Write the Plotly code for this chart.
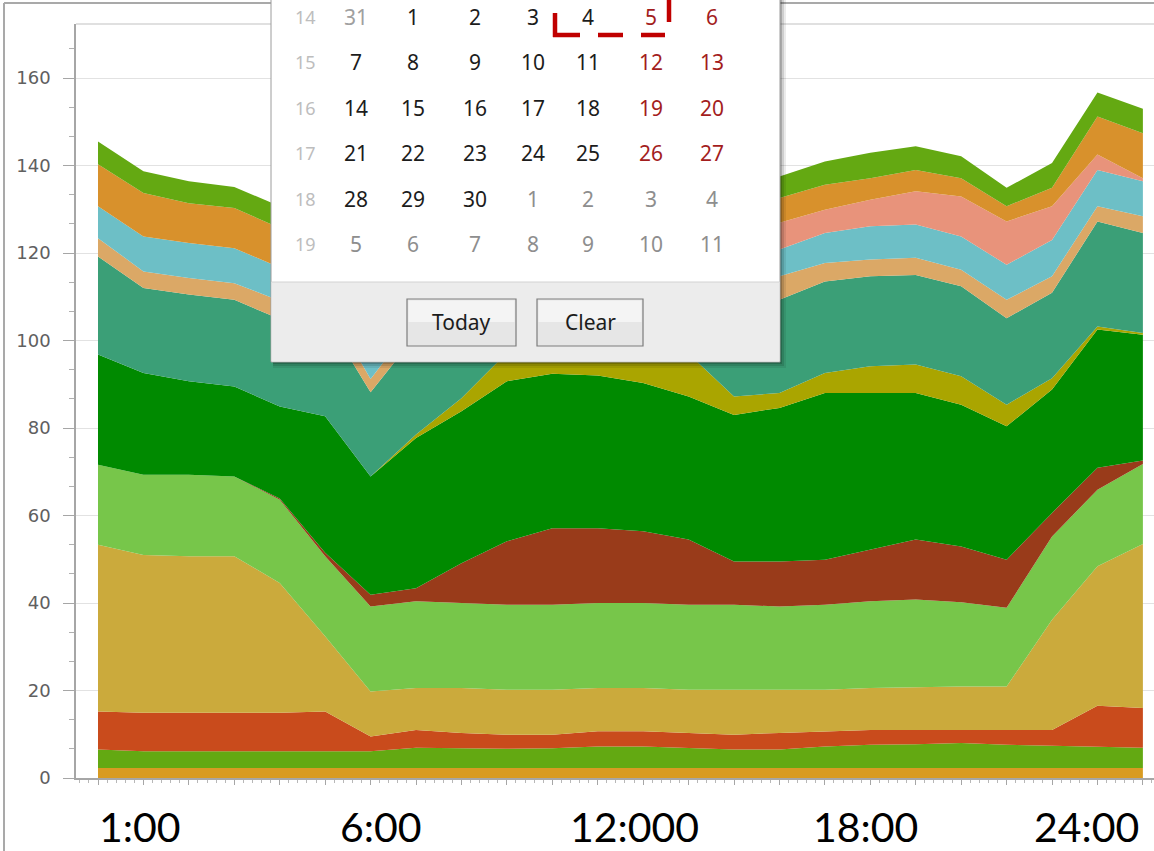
import plotly.graph_objects as go

# ---------------- data (stacked, bottom -> top), one value per hour ----------------
hours = list(range(1, 25))

gold_base   = [2.3, 2.3, 2.3, 2.3, 2.3, 2.3, 2.3, 2.3, 2.3, 2.3, 2.3, 2.3, 2.3, 2.3, 2.3, 2.3, 2.3, 2.3, 2.3, 2.3, 2.3, 2.3, 2.3, 2.3]
lime_low    = [4.2, 3.8, 3.8, 3.8, 3.8, 3.8, 3.8, 4.6, 4.5, 4.4, 4.5, 4.9, 4.9, 4.6, 4.2, 4.2, 4.9, 5.3, 5.4, 5.7, 5.3, 5.1, 4.9, 4.6]
red_orange  = [8.7, 8.8, 8.8, 8.8, 8.8, 9.1, 3.4, 4.1, 3.5, 3.2, 3.1, 3.5, 3.5, 3.4, 3.4, 3.8, 3.5, 3.4, 3.3, 3.0, 3.3, 3.6, 9.3, 9.1]
mustard     = [38.1, 36.1, 35.8, 35.8, 29.7, 17.2, 10.3, 9.6, 10.3, 10.3, 10.3, 9.9, 9.9, 9.9, 10.3, 9.9, 9.5, 9.6, 9.8, 9.9, 10.0, 25.2, 31.9, 37.5]
light_green = [18.3, 18.3, 18.6, 18.2, 19.0, 18.3, 19.4, 19.8, 19.4, 19.4, 19.4, 19.4, 19.4, 19.4, 19.4, 19.0, 19.4, 19.8, 20.0, 19.3, 18.0, 19.0, 17.5, 18.3]
rust        = [0.0, 0.0, 0.0, 0.0, 0.3, 0.8, 2.7, 3.0, 9.1, 14.5, 17.5, 17.1, 16.4, 14.9, 9.9, 10.3, 10.3, 11.8, 13.7, 12.7, 11.0, 5.4, 5.0, 0.8]
dark_green  = [25.2, 23.3, 21.4, 20.6, 21.0, 31.2, 27.0, 34.3, 34.7, 36.6, 35.3, 34.9, 33.9, 32.7, 33.5, 35.1, 38.1, 35.8, 33.5, 32.4, 30.5, 28.2, 31.6, 28.7]
olive       = [0.0, 0.0, 0.0, 0.0, 0.0, 0.0, 0.0, 0.8, 3.0, 6.5, 7.5, 8.0, 8.5, 9.8, 4.2, 3.4, 4.6, 6.1, 6.5, 6.5, 4.9, 2.6, 0.7, 0.4]
teal        = [22.4, 19.4, 19.8, 19.8, 20.0, 22.5, 19.3, 22.7, 20.5, 20.0, 20.5, 21.0, 21.0, 21.0, 21.5, 21.3, 20.9, 20.6, 20.5, 20.6, 19.8, 19.5, 24.0, 22.9]
tan         = [4.2, 3.8, 3.8, 3.8, 4.2, 4.0, 3.0, 3.5, 3.8, 3.9, 4.0, 3.8, 3.9, 4.1, 4.6, 5.4, 4.2, 3.8, 3.9, 3.8, 4.2, 3.8, 3.5, 3.8]
light_blue  = [7.3, 8.0, 8.0, 8.0, 7.6, 7.4, 7.0, 7.2, 7.5, 7.0, 6.8, 6.5, 6.6, 6.3, 6.2, 6.1, 6.9, 7.6, 7.6, 7.6, 8.0, 8.3, 8.3, 8.0]
salmon      = [0.0, 0.0, 0.0, 0.0, 0.0, 0.0, 0.0, 0.0, 0.4, 1.5, 2.6, 3.4, 4.3, 5.0, 5.8, 6.1, 5.3, 6.1, 7.6, 9.1, 9.9, 7.7, 3.5, 0.7]
orange      = [9.6, 9.9, 9.1, 9.2, 9.0, 8.7, 8.5, 8.2, 7.8, 7.3, 7.0, 6.6, 6.4, 6.0, 5.9, 5.7, 5.7, 4.9, 4.9, 4.2, 3.5, 4.2, 8.7, 10.3]
lime_top    = [5.2, 5.0, 5.0, 4.8, 5.0, 5.1, 4.9, 5.0, 5.2, 5.1, 5.0, 5.2, 5.0, 4.9, 4.8, 4.9, 5.3, 5.8, 5.4, 5.0, 4.2, 5.7, 5.5, 5.6]

series = [gold_base, lime_low, red_orange, mustard, light_green, rust, dark_green,
          olive, teal, tan, light_blue, salmon, orange, lime_top]
colors = ["#d89b22", "#63a912", "#c94b1c", "#cbaa3c", "#77c64a", "#993b1a", "#008a00",
          "#aaa500", "#3b9f77", "#dba866", "#6dbfc6", "#e8937b", "#d8912c", "#64a912"]

y_ticks = [0, 20, 40, 60, 80, 100, 120, 140, 160]
x_labels = ["1:00", "6:00", "12:000", "18:00", "24:00"]
x_label_px = [140, 381, 634, 865, 1086]

# calendar popup content
week_numbers = ["14", "15", "16", "17", "18", "19"]
day_rows = [["31", "1", "2", "3", "4", "5", "6"],
            ["7", "8", "9", "10", "11", "12", "13"],
            ["14", "15", "16", "17", "18", "19", "20"],
            ["21", "22", "23", "24", "25", "26", "27"],
            ["28", "29", "30", "1", "2", "3", "4"],
            ["5", "6", "7", "8", "9", "10", "11"]]
# o = other month, c = current month, w = weekend of current month
day_kind = [["o", "c", "c", "c", "c", "w", "w"],
            ["c", "c", "c", "c", "c", "w", "w"],
            ["c", "c", "c", "c", "c", "w", "w"],
            ["c", "c", "c", "c", "c", "w", "w"],
            ["c", "c", "c", "o", "o", "o", "o"],
            ["o", "o", "o", "o", "o", "o", "o"]]
buttons = ["Today", "Clear"]

# ---------------- geometry ----------------
W, H = 1154, 851
ML, MR, MT, MB = 76, 0, 24, 73
PW, PH = W - ML - MR, H - MT - MB
px_per_hour = 45.43
x_lo = 1 - 22 / px_per_hour
x_hi = x_lo + PW / px_per_hour
y_hi = PH / 4.375


def fx(p):
    return (p - ML) / PW


def fy(p):
    return (H - MB - p) / PH


fig = go.Figure()
for vals, col in zip(series, colors):
    fig.add_trace(go.Scatter(x=hours, y=vals, stackgroup="s", mode="lines",
                             line=dict(width=0, color=col), fillcolor=col,
                             hoverinfo="skip"))

fig.update_layout(
    width=W, height=H,
    margin=dict(l=ML, r=MR, t=MT, b=MB, autoexpand=False),
    paper_bgcolor="white", plot_bgcolor="white", showlegend=False,
    xaxis=dict(range=[x_lo, x_hi], tickmode="linear", tick0=1, dtick=1,
               ticks="outside", ticklen=5, tickcolor="#a6a6a6", tickwidth=1,
               showticklabels=False, showgrid=False, zeroline=False,
               showline=True, linecolor="#a6a6a6", linewidth=1.5,
               minor=dict(dtick=0.2, tick0=1, ticks="outside", ticklen=3,
                          tickcolor="#b8b8b8", showgrid=False)),
    yaxis=dict(range=[0, y_hi], tickmode="array", tickvals=y_ticks,
               ticks="outside", ticklen=11, tickcolor="#a6a6a6", tickwidth=1,
               showgrid=True, gridcolor="#e2e2e2", gridwidth=1, zeroline=False,
               showline=True, linecolor="#a6a6a6", linewidth=1.5,
               tickfont=dict(family="DejaVu Sans", size=18, color="#606060"),
               ticklabelstandoff=9,
               minor=dict(dtick=20 / 3, tick0=0, ticks="outside", ticklen=5,
                          tickcolor="#b0b0b0", showgrid=False)),
)

shapes = []
# outer frame and plot top border
shapes.append(dict(type="line", xref="paper", yref="paper", x0=fx(4), x1=fx(4), y0=fy(3), y1=fy(860),
                   line=dict(color="#a9a9a9", width=2), layer="above"))
shapes.append(dict(type="line", xref="paper", yref="paper", x0=fx(4), x1=fx(1160), y0=fy(3), y1=fy(3),
                   line=dict(color="#a9a9a9", width=2), layer="above"))
shapes.append(dict(type="line", xref="paper", yref="paper", x0=fx(76), x1=fx(1160), y0=fy(24), y1=fy(24),
                   line=dict(color="#d6d6d6", width=1.5), layer="above"))

# popup shadow
for off, op in [(6, 0.08), (4, 0.12), (2, 0.18)]:
    shapes.append(dict(type="rect", xref="paper", yref="paper",
                       x0=fx(273), x1=fx(780 + off), y0=fy(-10), y1=fy(362 + off),
                       line=dict(width=0), fillcolor=f"rgba(0,0,0,{op})", layer="above"))
# popup body
shapes.append(dict(type="rect", xref="paper", yref="paper", x0=fx(271), x1=fx(780), y0=fy(-10), y1=fy(362),
                   line=dict(color="#9c9c9c", width=1), fillcolor="white", layer="above"))
# footer
shapes.append(dict(type="rect", xref="paper", yref="paper", x0=fx(271.5), x1=fx(779.5), y0=fy(282), y1=fy(361.5),
                   line=dict(width=0), fillcolor="#ececec", layer="above"))
shapes.append(dict(type="line", xref="paper", yref="paper", x0=fx(272), x1=fx(779), y0=fy(282), y1=fy(282),
                   line=dict(color="#d2d2d2", width=1), layer="above"))
# buttons
for bx0, bx1 in [(407, 516), (537, 643)]:
    shapes.append(dict(type="rect", xref="paper", yref="paper", x0=fx(bx0), x1=fx(bx1), y0=fy(299), y1=fy(346),
                       line=dict(color="#7c7c7c", width=1.2), fillcolor="#e6e6e6", layer="above"))
    shapes.append(dict(type="rect", xref="paper", yref="paper", x0=fx(bx0 + 1.5), x1=fx(bx1 - 1.5), y0=fy(300.5), y1=fy(322),
                       line=dict(width=0), fillcolor="#f4f4f4", layer="above"))
# red dashed highlight
red_segments = [((555, 13), (555, 37)), ((553, 35), (580, 35)), ((598, 35), (623, 35)),
                ((641, 35), (665, 35)), ((669, -5), (669, 22))]
for (a, b), (c, d) in red_segments:
    shapes.append(dict(type="line", xref="paper", yref="paper", x0=fx(a), y0=fy(b), x1=fx(c), y1=fy(d),
                       line=dict(color="#c00000", width=4.5), layer="above"))

annotations = []
row_y = [17, 62, 108, 153, 199, 244]
col_x = [356, 413, 475, 533, 588, 651, 712]
kind_color = {"o": "#8e8e8e", "c": "#1c1c1c", "w": "#a31d1d"}
for r, wk in enumerate(week_numbers):
    annotations.append(dict(xref="paper", yref="paper", x=fx(305), y=fy(row_y[r]), text=wk, showarrow=False,
                            xanchor="center", yanchor="middle",
                            font=dict(family="Noto Sans", size=18, color="#bdbdbd")))
    for c, d in enumerate(day_rows[r]):
        col = kind_color[day_kind[r][c]]
        if r == 0 and c == 0:
            col = "#a0a0a0"
        annotations.append(dict(xref="paper", yref="paper", x=fx(col_x[c]), y=fy(row_y[r]), text=d,
                                showarrow=False, xanchor="center", yanchor="middle",
                                font=dict(family="Noto Sans", size=21, color=col)))
for txt, cx in zip(buttons, [461, 590]):
    annotations.append(dict(xref="paper", yref="paper", x=fx(cx), y=fy(322), text=txt, showarrow=False,
                            xanchor="center", yanchor="middle",
                            font=dict(family="Noto Sans", size=21, color="#1c1c1c")))
for txt, cx in zip(x_labels, x_label_px):
    annotations.append(dict(xref="paper", yref="paper", x=fx(cx), y=fy(826), text=txt, showarrow=False,
                            xanchor="center", yanchor="middle",
                            font=dict(family="Lato", size=41, color="#000000")))

fig.update_layout(shapes=shapes, annotations=annotations)
fig.write_html("out.html", config={"displayModeBar": False},
               post_script="document.body.style.margin='0px';document.body.style.overflow='hidden';")
